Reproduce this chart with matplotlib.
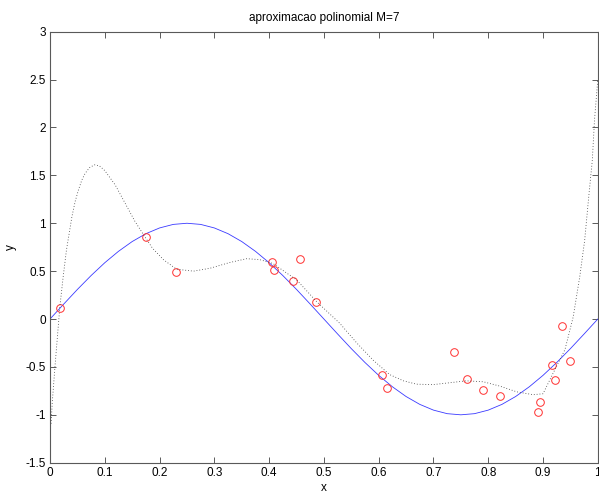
import matplotlib.pyplot as plt

plt.rcParams['font.family'] = ['Liberation Sans', 'DejaVu Sans']

# pontos observados (circulos vermelhos)
x_pts = [0.019, 0.175, 0.230, 0.405, 0.409, 0.444, 0.456, 0.485, 0.606, 0.615,
         0.737, 0.762, 0.791, 0.821, 0.890, 0.894, 0.916, 0.922, 0.934, 0.949]
y_pts = [0.11, 0.86, 0.49, 0.60, 0.51, 0.40, 0.63, 0.18, -0.58, -0.72,
         -0.34, -0.63, -0.74, -0.80, -0.97, -0.87, -0.48, -0.64, -0.07, -0.44]

# curva verdadeira (azul)
x_true = [0.0, 0.025, 0.05, 0.075, 0.1, 0.125, 0.15, 0.175, 0.2, 0.225, 0.25,
          0.275, 0.3, 0.325, 0.35, 0.375, 0.4, 0.425, 0.45, 0.475, 0.5,
          0.525, 0.55, 0.575, 0.6, 0.625, 0.65, 0.675, 0.7, 0.725, 0.75,
          0.775, 0.8, 0.825, 0.85, 0.875, 0.9, 0.925, 0.95, 0.975, 1.0]
y_true = [0.0, 0.156, 0.309, 0.454, 0.588, 0.707, 0.809, 0.891, 0.951, 0.988, 1.0,
          0.988, 0.951, 0.891, 0.809, 0.707, 0.588, 0.454, 0.309, 0.156, 0.0,
          -0.156, -0.309, -0.454, -0.588, -0.707, -0.809, -0.891, -0.951, -0.988, -1.0,
          -0.988, -0.951, -0.891, -0.809, -0.707, -0.588, -0.454, -0.309, -0.156, 0.0]

# polinomio ajustado M=7 (pontilhado)
x_fit = [0.0, 0.002, 0.004, 0.009, 0.014, 0.018, 0.024, 0.030, 0.040, 0.046, 0.052,
         0.058, 0.064, 0.072, 0.081, 0.090, 0.100, 0.119, 0.137, 0.155, 0.173,
         0.187, 0.207, 0.231, 0.262, 0.292, 0.328, 0.359, 0.383, 0.407, 0.432,
         0.450, 0.487, 0.529, 0.560, 0.590, 0.620, 0.645, 0.669, 0.699, 0.730,
         0.760, 0.791, 0.821, 0.852, 0.882, 0.900, 0.918, 0.940, 0.955, 0.967,
         0.976, 0.984, 0.990, 0.994, 1.0]
y_fit = [-1.12, -1.09, -0.88, -0.50, -0.15, 0.13, 0.44, 0.72, 1.07, 1.23, 1.35,
         1.45, 1.52, 1.58, 1.61, 1.60, 1.55, 1.40, 1.21, 1.02, 0.86,
         0.74, 0.62, 0.52, 0.50, 0.53, 0.59, 0.63, 0.62, 0.58, 0.48,
         0.41, 0.18, -0.045, -0.25, -0.43, -0.58, -0.645, -0.68, -0.685, -0.665,
         -0.645, -0.655, -0.70, -0.76, -0.79, -0.78, -0.57, -0.32, 0.02, 0.44,
         0.82, 1.31, 1.66, 2.08, 2.50]

xticks = [0, 0.1, 0.2, 0.3, 0.4, 0.5, 0.6, 0.7, 0.8, 0.9, 1]
xlabels = ['0', '0.1', '0.2', '0.3', '0.4', '0.5', '0.6', '0.7', '0.8', '0.9', '1']
yticks = [-1.5, -1, -0.5, 0, 0.5, 1, 1.5, 2, 2.5, 3]
ylabels = ['-1.5', '-1', '-0.5', '0', '0.5', '1', '1.5', '2', '2.5', '3']

fig = plt.figure(figsize=(5.99, 5.0), dpi=100)
ax = fig.add_axes([0.0835, 0.0746, 0.9145, 0.862])

ax.plot(x_true, y_true, color='#3a3aff', lw=0.6)
ax.plot(x_pts, y_pts, 'o', mfc='none', mec='#ff3030', ms=5.5, mew=0.7)
ax.plot(x_fit, y_fit, color='0.25', lw=0.6, linestyle=(0, (1, 2.4)))

ax.set_xlim(0, 1)
ax.set_ylim(-1.5, 3)
ax.set_xticks(xticks)
ax.set_xticklabels(xlabels)
ax.set_yticks(yticks)
ax.set_yticklabels(ylabels)
ax.tick_params(direction='in', length=4, width=0.6, color='0.25',
               top=True, right=True, labelsize=8.5, pad=3)
for s in ax.spines.values():
    s.set_linewidth(0.8)
    s.set_color('0.35')

ax.set_xlabel('x', fontsize=8.5, labelpad=2)
ax.set_ylabel('y', fontsize=8.5, labelpad=6)
ax.set_title('aproximacao polinomial M=7', fontsize=8.5, pad=8)

fig.savefig('out.png', dpi=100)
